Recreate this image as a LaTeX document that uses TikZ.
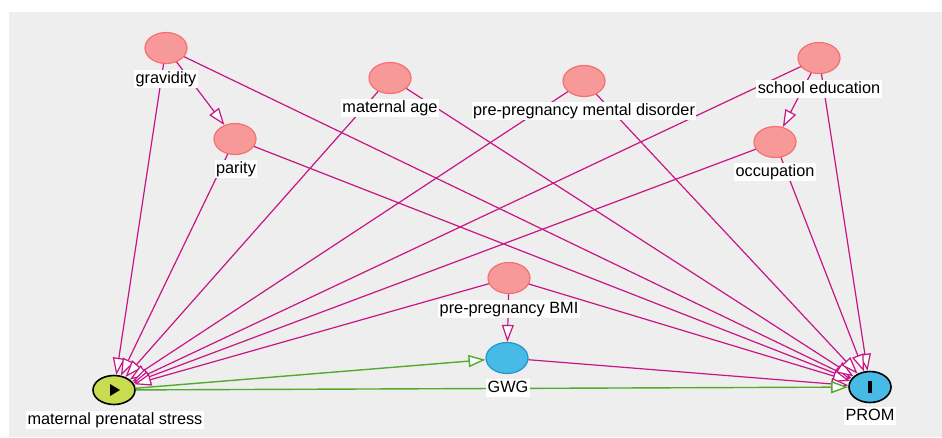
\documentclass[tikz,border=0pt]{standalone}
\usepackage{fontspec}
\setmainfont{Liberation Sans}
\usetikzlibrary{arrows.meta,shapes.geometric}
\definecolor{edgem}{RGB}{199,21,133}
\definecolor{edgeg}{RGB}{84,170,44}
\definecolor{bgc}{RGB}{238,238,238}
\definecolor{pinkf}{RGB}{248,153,153}
\definecolor{pinkd}{RGB}{246,112,112}
\definecolor{bluef}{RGB}{72,186,230}
\definecolor{blued}{RGB}{30,150,212}
\definecolor{stressf}{RGB}{200,220,80}
\begin{document}
\begin{tikzpicture}[x=1pt,y=-1pt,
  var/.style={ellipse, minimum width=42pt, minimum height=31pt, inner sep=0pt, line width=1.2pt},
  cov/.style={var, draw=pinkd, fill=pinkf},
  med/.style={var, draw=blued, fill=bluef},
  lab/.style={fill=white, inner sep=1.5pt, font=\fontsize{16.3}{18}\selectfont, text height=11.5pt, text depth=3.5pt},
  tipw/.style={-{Triangle[length=17pt,width=12pt,fill=white]}},
  medge/.style={draw=edgem, line width=1.2pt, tipw},
  gedge/.style={draw=edgeg, line width=1.4pt, tipw}]
\useasboundingbox (0,0) rectangle (942,437);
\fill[bgc] (9,12) rectangle (942,437);
% variables
\node[cov] (grav) at (166,48) {};
\node[cov] (par) at (235,139) {};
\node[cov] (age) at (390,78) {};
\node[cov] (ment) at (584,81) {};
\node[cov] (sch) at (819,58) {};
\node[cov] (occ) at (775,142) {};
\node[cov] (bmi) at (509,278) {};
\node[med] (gwg) at (507,358) {};
\node[var, draw=black, fill=stressf, minimum height=29pt, line width=1.6pt] (str) at (114,390) {};
\node[var, draw=black, fill=bluef, line width=1.6pt] (prom) at (870,387) {};
% edges
\foreach \s in {grav,par,age,ment,sch,occ,bmi}{
  \draw[medge] (\s) -- (str);
  \draw[medge] (\s) -- (prom);
}
\draw[medge] (grav) -- (par);
\draw[medge] (sch) -- (occ);
\draw[medge] (bmi) -- (gwg);
\draw[medge] (gwg) -- (prom);
\draw[gedge] (str) -- (gwg);
\draw[gedge] (str) -- (prom);
% symbols
\fill[black] ([xshift=-4pt,yshift=-6pt]str.center) -- ([xshift=-4pt,yshift=6pt]str.center) -- ([xshift=6pt]str.center) -- cycle;
\fill[black] ([xshift=-1.8pt,yshift=-6pt]prom.center) rectangle ([xshift=1.8pt,yshift=6pt]prom.center);
% labels
\node[lab] (lgrav) at (166,79) {gravidity};
\node[lab] (lpar) at (236,169) {parity};
\node[lab] (lage) at (390,108) {maternal age};
\node[lab] (lment) at (584,111) {pre-pregnancy mental disorder};
\node[lab] (lsch) at (819,89) {school education};
\node[lab] (locc) at (775,172) {occupation};
\node[lab] (lbmi) at (509,309) {pre-pregnancy BMI};
\node[lab] (lgwg) at (508,388) {GWG};
\node[lab] (lstr) at (115,420) {maternal prenatal stress};
\node[lab] (lprom) at (870,416) {PROM};
\end{tikzpicture}
\end{document}
